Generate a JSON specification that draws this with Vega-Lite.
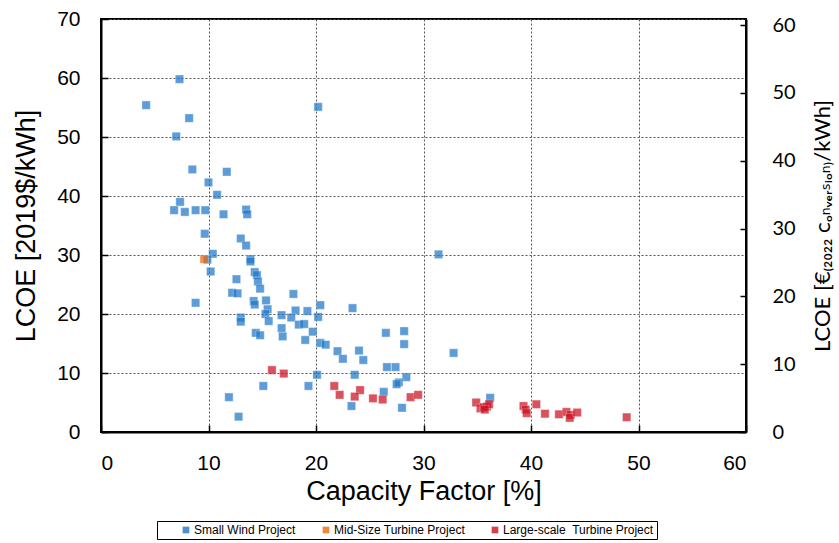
{
  "$schema": "https://vega.github.io/schema/vega-lite/v6.json",
  "autosize": "none",
  "padding": {"left": 101, "top": 19, "right": 93, "bottom": 111},
  "width": 645,
  "height": 413,
  "background": "white",
  "config": {
    "view": {"stroke": "black", "strokeWidth": 2},
    "axis": {
      "labelFont": "Liberation Sans",
      "titleFont": "Liberation Sans",
      "labelFontSize": 21,
      "titleFontSize": 27,
      "titleFontWeight": "normal",
      "labelColor": "black",
      "titleColor": "black",
      "domainColor": "black",
      "domainWidth": 2,
      "tickColor": "black",
      "tickWidth": 1.5,
      "gridColor": "#555555",
      "gridDash": [2, 2],
      "gridWidth": 1,
      "gridOpacity": 1
    }
  },
  "layer": [
    {
      "data": {
        "values": [
          {"cf": 4.2, "lcoe": 55.4, "type": "Small Wind Project"},
          {"cf": 7.3, "lcoe": 59.8, "type": "Small Wind Project"},
          {"cf": 8.2, "lcoe": 53.2, "type": "Small Wind Project"},
          {"cf": 7.0, "lcoe": 50.1, "type": "Small Wind Project"},
          {"cf": 8.5, "lcoe": 44.5, "type": "Small Wind Project"},
          {"cf": 11.7, "lcoe": 44.1, "type": "Small Wind Project"},
          {"cf": 10.0, "lcoe": 42.3, "type": "Small Wind Project"},
          {"cf": 10.8, "lcoe": 40.2, "type": "Small Wind Project"},
          {"cf": 7.35, "lcoe": 39.0, "type": "Small Wind Project"},
          {"cf": 6.8, "lcoe": 37.6, "type": "Small Wind Project"},
          {"cf": 7.8, "lcoe": 37.3, "type": "Small Wind Project"},
          {"cf": 8.8, "lcoe": 37.6, "type": "Small Wind Project"},
          {"cf": 9.7, "lcoe": 37.6, "type": "Small Wind Project"},
          {"cf": 11.4, "lcoe": 36.9, "type": "Small Wind Project"},
          {"cf": 13.5, "lcoe": 37.7, "type": "Small Wind Project"},
          {"cf": 13.6, "lcoe": 36.9, "type": "Small Wind Project"},
          {"cf": 9.65, "lcoe": 33.6, "type": "Small Wind Project"},
          {"cf": 13.0, "lcoe": 32.8, "type": "Small Wind Project"},
          {"cf": 13.5, "lcoe": 31.6, "type": "Small Wind Project"},
          {"cf": 10.4, "lcoe": 30.2, "type": "Small Wind Project"},
          {"cf": 9.9, "lcoe": 29.2, "type": "Small Wind Project"},
          {"cf": 13.9, "lcoe": 29.3, "type": "Small Wind Project"},
          {"cf": 13.9, "lcoe": 28.9, "type": "Small Wind Project"},
          {"cf": 10.2, "lcoe": 27.2, "type": "Small Wind Project"},
          {"cf": 14.3, "lcoe": 27.1, "type": "Small Wind Project"},
          {"cf": 14.5, "lcoe": 26.6, "type": "Small Wind Project"},
          {"cf": 14.6, "lcoe": 25.5, "type": "Small Wind Project"},
          {"cf": 12.6, "lcoe": 25.9, "type": "Small Wind Project"},
          {"cf": 14.8, "lcoe": 24.3, "type": "Small Wind Project"},
          {"cf": 12.2, "lcoe": 23.6, "type": "Small Wind Project"},
          {"cf": 12.7, "lcoe": 23.5, "type": "Small Wind Project"},
          {"cf": 8.8, "lcoe": 21.9, "type": "Small Wind Project"},
          {"cf": 14.2, "lcoe": 22.2, "type": "Small Wind Project"},
          {"cf": 14.3, "lcoe": 21.6, "type": "Small Wind Project"},
          {"cf": 15.35, "lcoe": 22.3, "type": "Small Wind Project"},
          {"cf": 13.0, "lcoe": 19.4, "type": "Small Wind Project"},
          {"cf": 13.0, "lcoe": 18.7, "type": "Small Wind Project"},
          {"cf": 14.4, "lcoe": 16.8, "type": "Small Wind Project"},
          {"cf": 14.8, "lcoe": 16.4, "type": "Small Wind Project"},
          {"cf": 11.9, "lcoe": 5.9, "type": "Small Wind Project"},
          {"cf": 12.8, "lcoe": 2.6, "type": "Small Wind Project"},
          {"cf": 20.2, "lcoe": 55.1, "type": "Small Wind Project"},
          {"cf": 17.9, "lcoe": 23.4, "type": "Small Wind Project"},
          {"cf": 20.4, "lcoe": 21.5, "type": "Small Wind Project"},
          {"cf": 23.4, "lcoe": 21.0, "type": "Small Wind Project"},
          {"cf": 18.1, "lcoe": 20.6, "type": "Small Wind Project"},
          {"cf": 19.2, "lcoe": 20.5, "type": "Small Wind Project"},
          {"cf": 15.5, "lcoe": 20.8, "type": "Small Wind Project"},
          {"cf": 15.3, "lcoe": 20.0, "type": "Small Wind Project"},
          {"cf": 16.8, "lcoe": 19.8, "type": "Small Wind Project"},
          {"cf": 17.7, "lcoe": 19.4, "type": "Small Wind Project"},
          {"cf": 20.2, "lcoe": 19.5, "type": "Small Wind Project"},
          {"cf": 15.6, "lcoe": 18.8, "type": "Small Wind Project"},
          {"cf": 18.4, "lcoe": 18.2, "type": "Small Wind Project"},
          {"cf": 18.9, "lcoe": 18.3, "type": "Small Wind Project"},
          {"cf": 16.8, "lcoe": 17.6, "type": "Small Wind Project"},
          {"cf": 16.9, "lcoe": 16.2, "type": "Small Wind Project"},
          {"cf": 19.7, "lcoe": 17.0, "type": "Small Wind Project"},
          {"cf": 19.0, "lcoe": 15.6, "type": "Small Wind Project"},
          {"cf": 20.4, "lcoe": 15.1, "type": "Small Wind Project"},
          {"cf": 20.9, "lcoe": 14.8, "type": "Small Wind Project"},
          {"cf": 26.5, "lcoe": 16.8, "type": "Small Wind Project"},
          {"cf": 28.2, "lcoe": 17.1, "type": "Small Wind Project"},
          {"cf": 28.2, "lcoe": 14.9, "type": "Small Wind Project"},
          {"cf": 22.0, "lcoe": 13.7, "type": "Small Wind Project"},
          {"cf": 24.0, "lcoe": 13.8, "type": "Small Wind Project"},
          {"cf": 22.5, "lcoe": 12.4, "type": "Small Wind Project"},
          {"cf": 24.4, "lcoe": 12.2, "type": "Small Wind Project"},
          {"cf": 26.6, "lcoe": 11.0, "type": "Small Wind Project"},
          {"cf": 27.4, "lcoe": 11.0, "type": "Small Wind Project"},
          {"cf": 20.1, "lcoe": 9.7, "type": "Small Wind Project"},
          {"cf": 23.6, "lcoe": 9.7, "type": "Small Wind Project"},
          {"cf": 28.4, "lcoe": 9.3, "type": "Small Wind Project"},
          {"cf": 27.7, "lcoe": 8.4, "type": "Small Wind Project"},
          {"cf": 27.5, "lcoe": 8.1, "type": "Small Wind Project"},
          {"cf": 15.1, "lcoe": 7.8, "type": "Small Wind Project"},
          {"cf": 19.3, "lcoe": 7.8, "type": "Small Wind Project"},
          {"cf": 26.3, "lcoe": 6.8, "type": "Small Wind Project"},
          {"cf": 23.3, "lcoe": 4.4, "type": "Small Wind Project"},
          {"cf": 28.0, "lcoe": 4.1, "type": "Small Wind Project"},
          {"cf": 32.8, "lcoe": 13.4, "type": "Small Wind Project"},
          {"cf": 31.4, "lcoe": 30.1, "type": "Small Wind Project"},
          {"cf": 36.2, "lcoe": 5.8, "type": "Small Wind Project"},
          {"cf": 9.6, "lcoe": 29.3, "type": "Mid-Size Turbine Project"},
          {"cf": 15.9, "lcoe": 10.5, "type": "Large-scale  Turbine Project"},
          {"cf": 17.0, "lcoe": 9.9, "type": "Large-scale  Turbine Project"},
          {"cf": 21.7, "lcoe": 7.8, "type": "Large-scale  Turbine Project"},
          {"cf": 22.2, "lcoe": 6.3, "type": "Large-scale  Turbine Project"},
          {"cf": 24.1, "lcoe": 7.1, "type": "Large-scale  Turbine Project"},
          {"cf": 23.6, "lcoe": 6.0, "type": "Large-scale  Turbine Project"},
          {"cf": 25.3, "lcoe": 5.7, "type": "Large-scale  Turbine Project"},
          {"cf": 26.2, "lcoe": 5.5, "type": "Large-scale  Turbine Project"},
          {"cf": 28.8, "lcoe": 5.9, "type": "Large-scale  Turbine Project"},
          {"cf": 29.5, "lcoe": 6.3, "type": "Large-scale  Turbine Project"},
          {"cf": 34.9, "lcoe": 5.0, "type": "Large-scale  Turbine Project"},
          {"cf": 35.3, "lcoe": 4.0, "type": "Large-scale  Turbine Project"},
          {"cf": 35.6, "lcoe": 4.2, "type": "Large-scale  Turbine Project"},
          {"cf": 35.9, "lcoe": 4.3, "type": "Large-scale  Turbine Project"},
          {"cf": 36.1, "lcoe": 4.7, "type": "Large-scale  Turbine Project"},
          {"cf": 35.7, "lcoe": 3.8, "type": "Large-scale  Turbine Project"},
          {"cf": 39.3, "lcoe": 4.4, "type": "Large-scale  Turbine Project"},
          {"cf": 39.5, "lcoe": 3.8, "type": "Large-scale  Turbine Project"},
          {"cf": 39.6, "lcoe": 3.2, "type": "Large-scale  Turbine Project"},
          {"cf": 40.5, "lcoe": 4.7, "type": "Large-scale  Turbine Project"},
          {"cf": 41.3, "lcoe": 3.1, "type": "Large-scale  Turbine Project"},
          {"cf": 42.6, "lcoe": 3.0, "type": "Large-scale  Turbine Project"},
          {"cf": 43.3, "lcoe": 3.4, "type": "Large-scale  Turbine Project"},
          {"cf": 43.7, "lcoe": 2.9, "type": "Large-scale  Turbine Project"},
          {"cf": 43.6, "lcoe": 2.4, "type": "Large-scale  Turbine Project"},
          {"cf": 44.3, "lcoe": 3.3, "type": "Large-scale  Turbine Project"},
          {"cf": 48.9, "lcoe": 2.5, "type": "Large-scale  Turbine Project"}
        ]
      },
      "mark": {"type": "point", "shape": "square", "filled": true, "size": 70, "opacity": 0.72, "stroke": "white", "strokeWidth": 0.6, "strokeOpacity": 0.6},
      "encoding": {
        "x": {
          "field": "cf", "type": "quantitative",
          "scale": {"domain": [0, 60], "nice": false},
          "axis": {"values": [0, 10, 20, 30, 40, 50, 60], "title": "Capacity Factor [%]", "tickSize": -7, "labelPadding": 27, "titlePadding": 5, "grid": true}
        },
        "y": {
          "field": "lcoe", "type": "quantitative",
          "scale": {"domain": [0, 70], "nice": false},
          "axis": {"values": [0, 10, 20, 30, 40, 50, 60, 70], "title": "LCOE [2019$/kWh]", "tickSize": -7, "labelPadding": 28, "titlePadding": 16, "grid": true}
        },
        "color": {
          "field": "type", "type": "nominal",
          "scale": {
            "domain": ["Small Wind Project", "Mid-Size Turbine Project", "Large-scale  Turbine Project"],
            "range": ["#1f77c8", "#e86a10", "#cc1020"]
          },
          "legend": {
            "title": null,
            "orient": "none",
            "legendX": 56,
            "legendY": 502,
            "direction": "horizontal",
            "columns": 3,
            "strokeColor": "black",
            "padding": 3,
            "columnPadding": 4,
            "symbolOffset": 20,
            "symbolType": "square",
            "symbolSize": 45,
            "symbolStrokeWidth": 0,
            "symbolOpacity": 0.8,
            "labelFont": "Liberation Sans",
            "labelFontSize": 12,
            "labelColor": "black",
            "labelOffset": 2,
            "labelExpr": "replace(datum.label, '  ', '\u00a0 ')"
          }
        }
      }
    },
    {
      "data": {"values": [{"eur": 0}]},
      "mark": {"type": "rule", "opacity": 0},
      "encoding": {
        "y": {
          "field": "eur", "type": "quantitative",
          "scale": {"domain": [0, 60.9], "nice": false},
          "axis": {
            "orient": "right",
            "values": [0, 10, 20, 30, 40, 50, 60],
            "title": "LCOE [€₍₂₀₂₂ ᴄₒₙᵥₑᵣₛᵢₒₙ₎/kWh]",
            "titleAngle": -90,
            "titleBaseline": "top",
            "titleFont": "Lato, 'DejaVu Sans Condensed'",
            "labelFont": "Lato",
            "labelFontSize": 20,
            "titleFontSize": 22,
            "tickSize": -6,
            "labelPadding": 32,
            "titlePadding": 17,
            "grid": false
          }
        }
      }
    }
  ],
  "resolve": {"scale": {"y": "independent"}}
}
